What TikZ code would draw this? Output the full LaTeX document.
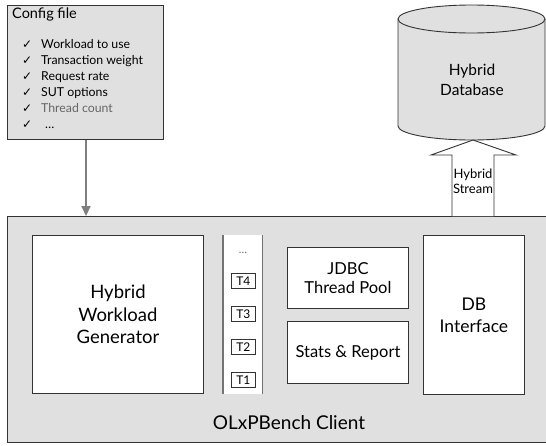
\documentclass[tikz,border=0pt]{standalone}
\usepackage{fontspec}
\setmainfont{Lato}
\newfontfamily\symfont{DejaVu Sans}
\usetikzlibrary{arrows.meta}
\definecolor{panel}{HTML}{E0E0E0}
\definecolor{edge}{HTML}{333333}
\definecolor{arrowgray}{HTML}{7F7F7F}
\tikzset{
  box/.style={draw=edge, line width=0.9pt, fill=white, anchor=north west, inner sep=0pt, align=center, text=black},
  tbox/.style={draw=edge, line width=0.8pt, fill=white, anchor=north west, inner sep=0pt, minimum width=24pt, minimum height=15pt, font=\fontsize{12}{12}\selectfont},
  item/.style={anchor=base west, inner sep=0pt, font=\fontsize{12.3}{14}\selectfont},
  chk/.style={anchor=base west, inner sep=0pt, font=\symfont\fontsize{12}{13}\selectfont},
}
\begin{document}
\begin{tikzpicture}[x=1pt,y=-1pt]
\useasboundingbox (0,0) rectangle (546,445);
\clip (0,0) rectangle (546,445);
% config file
\node[draw=edge, line width=0.9pt, fill=panel, anchor=north west, minimum width=156pt, minimum height=134pt, inner sep=0pt] (cfg) at (7,5) {};
\node[anchor=base west, inner sep=0pt, font=\fontsize{14.5}{16}\selectfont] (cfgt) at (12,18) {Config file};
\node[chk] (c1) at (22,48) {✓};
\node[item] (i1) at (41,48) {Workload to use};
\node[chk] (c2) at (22,64) {✓};
\node[item] (i2) at (41,64) {Transaction weight};
\node[chk] (c3) at (22,80) {✓};
\node[item] (i3) at (41,80) {Request rate};
\node[chk] (c4) at (22,96) {✓};
\node[item] (i4) at (41,96) {SUT options};
\node[chk] (c5) at (22,112) {✓};
\node[item, text=black!60] (i5) at (41,112) {Thread count};
\node[chk] (c6) at (22,128) {✓};
\node[item] (i6) at (45,128) {…};
% cylinder
\fill[panel] (398,19) -- (398,126) .. controls (398,133.7) and (430.9,140) .. (471.5,140) .. controls (512.1,140) and (545,133.7) .. (545,126) -- (545,19) -- cycle;
\draw[edge, line width=0.9pt] (398,19) -- (398,126) .. controls (398,133.7) and (430.9,140) .. (471.5,140) .. controls (512.1,140) and (545,133.7) .. (545,126) -- (545,19);
\draw[edge, line width=0.9pt, fill=panel] (471.5,19) ellipse [x radius=73.5, y radius=14];
\node[align=center, font=\fontsize{15.5}{20}\selectfont] (db) at (472,80) {Hybrid\\Database};
% main client box
\node[draw=edge, line width=0.9pt, fill=panel, anchor=north west, minimum width=580pt, minimum height=226pt, inner sep=0pt] (main) at (7,216) {};
\node[font=\fontsize{19}{22}\selectfont] (mt) at (289,423) {OLxPBench Client};
% hybrid stream arrow
\draw[edge, line width=0.9pt, fill=white] (452,216) -- (452,155) -- (431,155) -- (473,140) -- (516,155) -- (494,155) -- (494,216);
\node[align=center, inner sep=0pt, font=\fontsize{13}{15}\selectfont] (stream) at (473,181) {Hybrid\\Stream};
% config arrow
\draw[arrowgray, line width=2pt, -{Triangle[length=10pt,width=9pt]}] (cfg.south -| 86,0) -- (main.north -| 86,0);
% inner boxes
\node[box, minimum width=171pt, minimum height=158pt, font=\fontsize{18.5}{22.5}\selectfont] (hwg) at (32,235) {Hybrid\\Workload\\Generator};
\node[fill=white, anchor=north west, minimum width=39pt, minimum height=159pt, inner sep=0pt] (threads) at (223,235) {};
\draw[black!55, line width=1.2pt] (threads.north west) -- (threads.south west);
\draw[black!55, line width=1.2pt] (threads.north east) -- (threads.south east);
\node[text=black!60, font=\fontsize{11}{12}\selectfont] (dots) at (243,253) {…};
\node[tbox] (t4) at (231,273) {T4};
\node[tbox] (t3) at (231,306) {T3};
\node[tbox] (t2) at (231,339) {T2};
\node[tbox] (t1) at (231,372) {T1};
\node[box, minimum width=121pt, minimum height=61pt, font=\fontsize{16.5}{19}\selectfont] (jdbc) at (287,247) {JDBC\\Thread Pool};
\node[box, minimum width=121pt, minimum height=62pt, font=\fontsize{16.5}{19}\selectfont] (stats) at (287,321) {Stats \& Report};
\node[box, minimum width=101pt, minimum height=159pt, font=\fontsize{17.5}{22}\selectfont] (dbi) at (423,235) {DB\\Interface};
\end{tikzpicture}
\end{document}
